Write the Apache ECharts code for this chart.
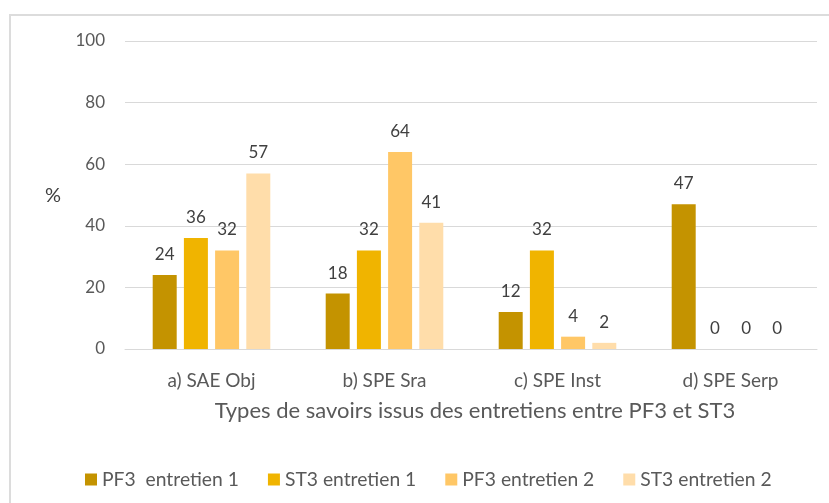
<!DOCTYPE html>
<html>
<head>
<meta charset="UTF-8">
<title></title>
<script src="https://cdn.jsdelivr.net/npm/echarts@6/dist/echarts.min.js"></script>
<style>
  html, body { margin: 0; padding: 0; background: #fff; }
  #chart { width: 829px; height: 503px; }
</style>
</head>
<body>
<div id="chart"></div>
<script type="text/javascript">
var categories = ['a) SAE Obj', 'b) SPE Sra', 'c) SPE Inst', 'd) SPE Serp'];
var seriesNames = ['PF3  entretien 1', 'ST3 entretien 1', 'PF3 entretien 2', 'ST3 entretien 2'];
var pf3e1 = [24, 18, 12, 47];
var st3e1 = [36, 32, 32, 0];
var pf3e2 = [32, 64, 4, 0];
var st3e2 = [57, 41, 2, 0];
var yTicks = [0, 20, 40, 60, 80, 100];

var colors = ['#C49300', '#F0B400', '#FFC766', '#FFDDAA'];
var font = 'Lato, "Open Sans", sans-serif';
var allData = [pf3e1, st3e1, pf3e2, st3e2];

var series = [];
for (var i = 0; i < allData.length; i++) {
	series.push({
		name: seriesNames[i],
		type: 'bar',
		data: allData[i],
		barWidth: 24,
		barGap: '30%',
		itemStyle: { color: colors[i] },
		label: {
			show: true,
			position: 'top',
			distance: 12,
			color: '#404040',
			fontSize: 17,
			fontFamily: font
		}
	});
}

var myChart = echarts.init(document.getElementById('chart'));
var option = {
	color: colors,
	animation: false,
	grid: { left: 125, right: 12, top: 41, bottom: 154 },
	legend: {
		left: 80,
		top: 465,
		itemWidth: 12,
		itemHeight: 12,
		itemGap: 29,
		icon: 'rect',
		textStyle: { color: '#595959', fontSize: 19.3, fontFamily: font },
		data: seriesNames
	},
	xAxis: {
		type: 'category',
		data: categories,
		axisLine: { lineStyle: { color: '#d9d9d9', width: 1 } },
		axisTick: { show: false },
		axisLabel: { color: '#595959', fontSize: 19, fontFamily: font, margin: 22 }
	},
	yAxis: {
		type: 'value',
		min: yTicks[0],
		max: yTicks[yTicks.length - 1],
		interval: 20,
		axisLine: { show: false },
		axisTick: { show: false },
		splitLine: { lineStyle: { color: '#d9d9d9', width: 1 } },
		axisLabel: { color: '#595959', fontSize: 17, fontFamily: font, margin: 20 }
	},
	graphic: [
		{
			type: 'rect',
			shape: { x: 10, y: 15, width: 900, height: 600 },
			style: { fill: 'none', stroke: '#dcdcdc', lineWidth: 2 },
			silent: true
		},
		{
			type: 'text',
			style: {
				x: 53, y: 196, text: '%', align: 'center', verticalAlign: 'middle',
				fill: '#404040', fontSize: 20, fontFamily: font
			}
		},
		{
			type: 'text',
			style: {
				x: 475, y: 411,
				text: 'Types de savoirs issus des entretiens entre PF3 et ST3',
				align: 'center', verticalAlign: 'middle',
				fill: '#595959', fontSize: 22, fontFamily: font
			}
		}
	],
	series: series
};
myChart.setOption(option);
</script>
</body>
</html>
